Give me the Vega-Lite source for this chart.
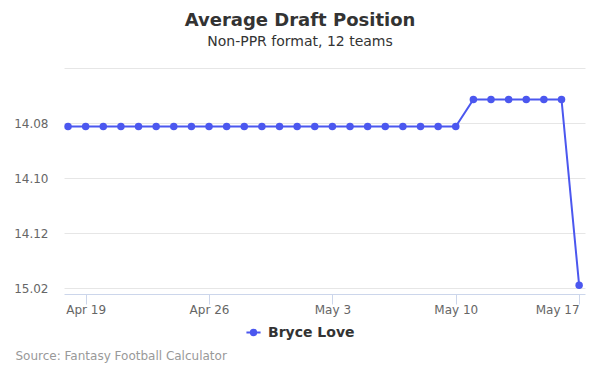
{
  "$schema": "https://vega.github.io/schema/vega-lite/v6.json",
  "width": 521,
  "height": 226,
  "autosize": {"type": "none"},
  "padding": {"left": 64, "top": 68, "right": 15, "bottom": 81},
  "background": "#ffffff",
  "title": {
    "text": "Average Draft Position",
    "subtitle": "Non-PPR format, 12 teams",
    "anchor": "middle",
    "frame": "group",
    "dx": -24.5,
    "offset": 19,
    "font": "DejaVu Sans",
    "fontSize": 18,
    "fontWeight": "bold",
    "color": "#333333",
    "subtitleFont": "DejaVu Sans",
    "subtitleFontSize": 14,
    "subtitleColor": "#333333",
    "subtitlePadding": 5
  },
  "data": {
    "values": [
      {"date": "2019-04-18", "adp": 164.12, "player": "Bryce Love"},
      {"date": "2019-04-19", "adp": 164.12, "player": "Bryce Love"},
      {"date": "2019-04-20", "adp": 164.12, "player": "Bryce Love"},
      {"date": "2019-04-21", "adp": 164.12, "player": "Bryce Love"},
      {"date": "2019-04-22", "adp": 164.12, "player": "Bryce Love"},
      {"date": "2019-04-23", "adp": 164.12, "player": "Bryce Love"},
      {"date": "2019-04-24", "adp": 164.12, "player": "Bryce Love"},
      {"date": "2019-04-25", "adp": 164.12, "player": "Bryce Love"},
      {"date": "2019-04-26", "adp": 164.12, "player": "Bryce Love"},
      {"date": "2019-04-27", "adp": 164.12, "player": "Bryce Love"},
      {"date": "2019-04-28", "adp": 164.12, "player": "Bryce Love"},
      {"date": "2019-04-29", "adp": 164.12, "player": "Bryce Love"},
      {"date": "2019-04-30", "adp": 164.12, "player": "Bryce Love"},
      {"date": "2019-05-01", "adp": 164.12, "player": "Bryce Love"},
      {"date": "2019-05-02", "adp": 164.12, "player": "Bryce Love"},
      {"date": "2019-05-03", "adp": 164.12, "player": "Bryce Love"},
      {"date": "2019-05-04", "adp": 164.12, "player": "Bryce Love"},
      {"date": "2019-05-05", "adp": 164.12, "player": "Bryce Love"},
      {"date": "2019-05-06", "adp": 164.12, "player": "Bryce Love"},
      {"date": "2019-05-07", "adp": 164.12, "player": "Bryce Love"},
      {"date": "2019-05-08", "adp": 164.12, "player": "Bryce Love"},
      {"date": "2019-05-09", "adp": 164.12, "player": "Bryce Love"},
      {"date": "2019-05-10", "adp": 164.12, "player": "Bryce Love"},
      {"date": "2019-05-11", "adp": 163.14, "player": "Bryce Love"},
      {"date": "2019-05-12", "adp": 163.14, "player": "Bryce Love"},
      {"date": "2019-05-13", "adp": 163.14, "player": "Bryce Love"},
      {"date": "2019-05-14", "adp": 163.14, "player": "Bryce Love"},
      {"date": "2019-05-15", "adp": 163.14, "player": "Bryce Love"},
      {"date": "2019-05-16", "adp": 163.14, "player": "Bryce Love"},
      {"date": "2019-05-17", "adp": 169.88, "player": "Bryce Love"}
    ]
  },
  "encoding": {
    "x": {
      "field": "date",
      "type": "temporal",
      "scale": {
        "type": "utc",
        "domain": [
          {"year": 2019, "month": 4, "date": 17, "hours": 18, "minutes": 30, "utc": true},
          {"year": 2019, "month": 5, "date": 17, "hours": 8, "utc": true}
        ]
      },
      "axis": {
        "title": "Source: Fantasy Football Calculator",
        "titleAnchor": "start",
        "titleAlign": "left",
        "titleX": -49,
        "titleY": 56,
        "titleFont": "DejaVu Sans",
        "titleFontSize": 12,
        "titleFontWeight": "normal",
        "titleColor": "#999999",
        "values": [
          {"year": 2019, "month": 4, "date": 19, "utc": true},
          {"year": 2019, "month": 4, "date": 26, "utc": true},
          {"year": 2019, "month": 5, "date": 3, "utc": true},
          {"year": 2019, "month": 5, "date": 10, "utc": true},
          {"year": 2019, "month": 5, "date": 17, "utc": true}
        ],
        "labelExpr": "utcFormat(datum.value, '%b %-d')",
        "labelAlign": {"condition": {"test": "datum.value > 1558000000000", "value": "right"}, "value": "center"},
        "labelDx": {"condition": {"test": "datum.value > 1558000000000", "value": 5}, "value": 0},
        "grid": false,
        "domainColor": "#ccd6eb",
        "tickColor": "#ccd6eb",
        "tickSize": 10,
        "labelFont": "DejaVu Sans",
        "labelFontSize": 12,
        "labelColor": "#666666",
        "labelPadding": 0,
        "labelFlush": false,
        "labelOverlap": false
      }
    },
    "y": {
      "field": "adp",
      "type": "quantitative",
      "scale": {"domain": [162, 170.2], "reverse": true, "nice": false, "zero": false},
      "axis": {
        "title": null,
        "values": [162, 164, 166, 168, 170],
        "labelExpr": "datum.value == 162 ? '' : format(floor((datum.value - 1) / 12) + 1, 'd') + '.' + format(datum.value - floor((datum.value - 1) / 12) * 12, '02d')",
        "domain": false,
        "ticks": false,
        "gridColor": "#e6e6e6",
        "labelFont": "DejaVu Sans",
        "labelFontSize": 12,
        "labelColor": "#666666",
        "labelPadding": 16
      }
    },
    "color": {
      "field": "player",
      "type": "nominal",
      "scale": {"domain": ["Bryce Love"], "range": ["#4b57ef"]},
      "legend": {
        "title": null,
        "orient": "none",
        "legendX": 181,
        "legendY": 256,
        "symbolType": "M-1,0L1,0M-0.38,0A0.38,0.38 0 1,0 0.38,0A0.38,0.38 0 1,0 -0.38,0Z",
        "symbolSize": 200,
        "symbolStrokeWidth": 2,
        "symbolFillColor": "#4b57ef",
        "symbolStrokeColor": "#4b57ef",
        "labelFont": "DejaVu Sans",
        "labelFontSize": 14,
        "labelFontWeight": "bold",
        "labelColor": "#333333",
        "labelOffset": 6
      }
    }
  },
  "layer": [
    {"mark": {"type": "line", "strokeWidth": 2}},
    {"mark": {"type": "point", "filled": true, "opacity": 1, "size": 56}}
  ],
  "config": {"view": {"stroke": null}}
}
